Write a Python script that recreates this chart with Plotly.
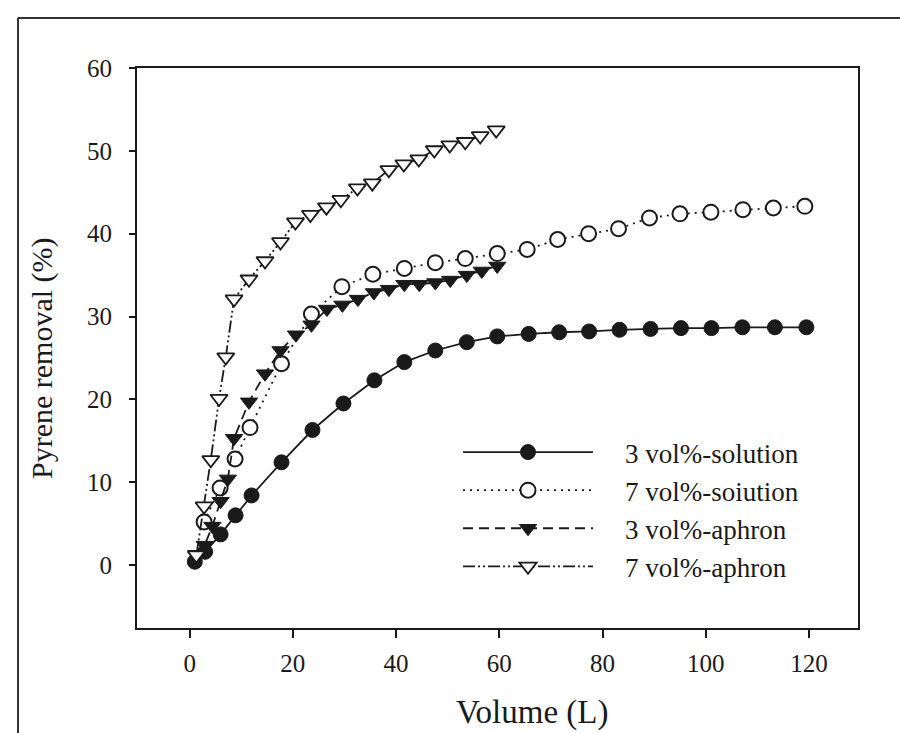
import plotly.graph_objects as go

# ---- data ----
x_3sol = [1.0, 3.0, 6.0, 8.9, 12.0, 17.8, 23.8, 29.8, 35.8, 41.6, 47.6, 53.7, 59.6,
          65.7, 71.6, 77.4, 83.3, 89.3, 95.2, 101.1, 107.1, 113.4, 119.5]
y_3sol = [0.4, 1.6, 3.7, 6.0, 8.4, 12.4, 16.3, 19.5, 22.3, 24.5, 25.9, 26.9, 27.6,
          27.9, 28.1, 28.2, 28.4, 28.5, 28.6, 28.6, 28.7, 28.7, 28.7]

x_7sol = [2.8, 5.9, 8.8, 11.7, 17.8, 23.6, 29.5, 35.5, 41.6, 47.6, 53.4, 59.6,
          65.4, 71.3, 77.3, 83.1, 89.1, 95.0, 101.0, 107.2, 113.1, 119.2]
y_7sol = [5.2, 9.3, 12.8, 16.6, 24.3, 30.3, 33.6, 35.1, 35.8, 36.5, 37.0, 37.6,
          38.1, 39.3, 40.0, 40.6, 41.9, 42.4, 42.6, 42.9, 43.1, 43.3]

x_3aph = [1.35, 2.9, 4.4, 6.0, 7.4, 8.6, 11.5, 14.6, 17.6, 20.6, 23.6, 26.6, 29.6,
          32.6, 35.7, 38.6, 41.6, 44.5, 47.6, 50.5, 53.7, 56.6, 59.6]
y_3aph = [1.3, 2.4, 4.7, 7.7, 10.4, 15.3, 19.7, 23.1, 25.9, 27.8, 29.0, 30.9, 31.4,
          32.1, 32.9, 33.3, 33.9, 33.9, 34.1, 34.4, 35.0, 35.5, 36.1]

x_7aph = [1.3, 2.8, 4.1, 5.7, 7.0, 8.6, 11.5, 14.6, 17.6, 20.5, 23.4, 26.5, 29.3,
          32.5, 35.4, 38.6, 41.5, 44.4, 47.4, 50.4, 53.4, 56.3, 59.4]
y_7aph = [1.2, 7.1, 12.7, 20.1, 25.1, 32.1, 34.5, 36.7, 39.0, 41.4, 42.3, 43.2, 44.1,
          45.5, 46.1, 47.7, 48.4, 49.0, 50.1, 50.7, 51.1, 51.8, 52.5]

series_names = ["3 vol%-solution", "7 vol%-soiution", "3 vol%-aphron", "7 vol%-aphron"]
x_ticks = [0, 20, 40, 60, 80, 100, 120]
y_ticks = [0, 10, 20, 30, 40, 50, 60]

FONT = "Liberation Serif, Times New Roman, serif"
INK = "#1a1a1a"
PAD = "\u00a0" * 4  # gap between legend sample and its text

fig = go.Figure()

fig.add_trace(go.Scatter(
    x=x_3sol, y=y_3sol, name=PAD + series_names[0], mode="lines+markers",
    line=dict(color=INK, width=1.8, dash="solid"),
    marker=dict(symbol="circle", size=15, color=INK, line=dict(color=INK, width=1))))

fig.add_trace(go.Scatter(
    x=x_7sol, y=y_7sol, name=PAD + series_names[1], mode="lines+markers",
    line=dict(color=INK, width=1.8, dash="2px,5px"),
    marker=dict(symbol="circle", size=15, color="white", line=dict(color=INK, width=2))))

fig.add_trace(go.Scatter(
    x=x_3aph, y=y_3aph, name=PAD + series_names[2], mode="lines+markers",
    line=dict(color=INK, width=1.8, dash="10px,6px"),
    marker=dict(symbol="triangle-down", size=15, color=INK, line=dict(color=INK, width=1))))

fig.add_trace(go.Scatter(
    x=x_7aph, y=y_7aph, name=PAD + series_names[3], mode="lines+markers",
    line=dict(color=INK, width=1.8, dash="12px,3px,2px,3px,2px,3px"),
    marker=dict(symbol="triangle-down", size=15, color="white", line=dict(color=INK, width=1.8))))

L, R, T, B = 137, 42, 68, 105
W, H = 900, 733
pw, ph = W - L - R, H - T - B

def px_to_paper_x(px):
    return (px - L) / pw

def px_to_paper_y(py):
    return (H - B - py) / ph

fig.update_layout(
    width=W, height=H,
    margin=dict(l=L, r=R, t=T, b=B),
    paper_bgcolor="white", plot_bgcolor="white",
    font=dict(family=FONT, color=INK, size=24),
    showlegend=True,
    legend=dict(
        x=px_to_paper_x(458), y=px_to_paper_y(428), xanchor="left", yanchor="top",
        bgcolor="rgba(0,0,0,0)", borderwidth=0,
        font=dict(family=FONT, size=27, color=INK),
        itemwidth=130, traceorder="normal",
    ),
    xaxis=dict(
        range=[-10.2, 129.5], tickmode="array", tickvals=x_ticks,
        showgrid=False, zeroline=False, showline=True, linecolor=INK, linewidth=2,
        mirror=True, ticks="outside", ticklen=8, tickwidth=1.5, tickcolor=INK,
        tickfont=dict(family=FONT, size=25, color=INK), ticklabelstandoff=4,
    ),
    yaxis=dict(
        range=[-7.6, 60], tickmode="array", tickvals=y_ticks,
        showgrid=False, zeroline=False, showline=True, linecolor=INK, linewidth=2,
        mirror=True, ticks="outside", ticklen=6, tickwidth=1.5, tickcolor=INK,
        tickfont=dict(family=FONT, size=25, color=INK), ticklabelstandoff=12,
    ),
    annotations=[
        dict(text="Volume (L)", xref="paper", yref="paper",
             x=px_to_paper_x(532), y=px_to_paper_y(712), xanchor="center", yanchor="middle",
             showarrow=False, font=dict(family=FONT, size=33, color=INK)),
        dict(text="Pyrene removal (%)", xref="paper", yref="paper",
             x=px_to_paper_x(42), y=px_to_paper_y(358), xanchor="center", yanchor="middle",
             textangle=-90, showarrow=False, font=dict(family=FONT, size=30, color=INK)),
    ],
    shapes=[
        dict(type="line", xref="paper", yref="paper",
             x0=px_to_paper_x(18), x1=px_to_paper_x(900), y0=px_to_paper_y(18), y1=px_to_paper_y(18),
             line=dict(color="#333", width=2)),
        dict(type="line", xref="paper", yref="paper",
             x0=px_to_paper_x(18), x1=px_to_paper_x(18), y0=px_to_paper_y(18), y1=px_to_paper_y(733),
             line=dict(color="#333", width=2)),
    ],
)

fig.write_html("out.html")
